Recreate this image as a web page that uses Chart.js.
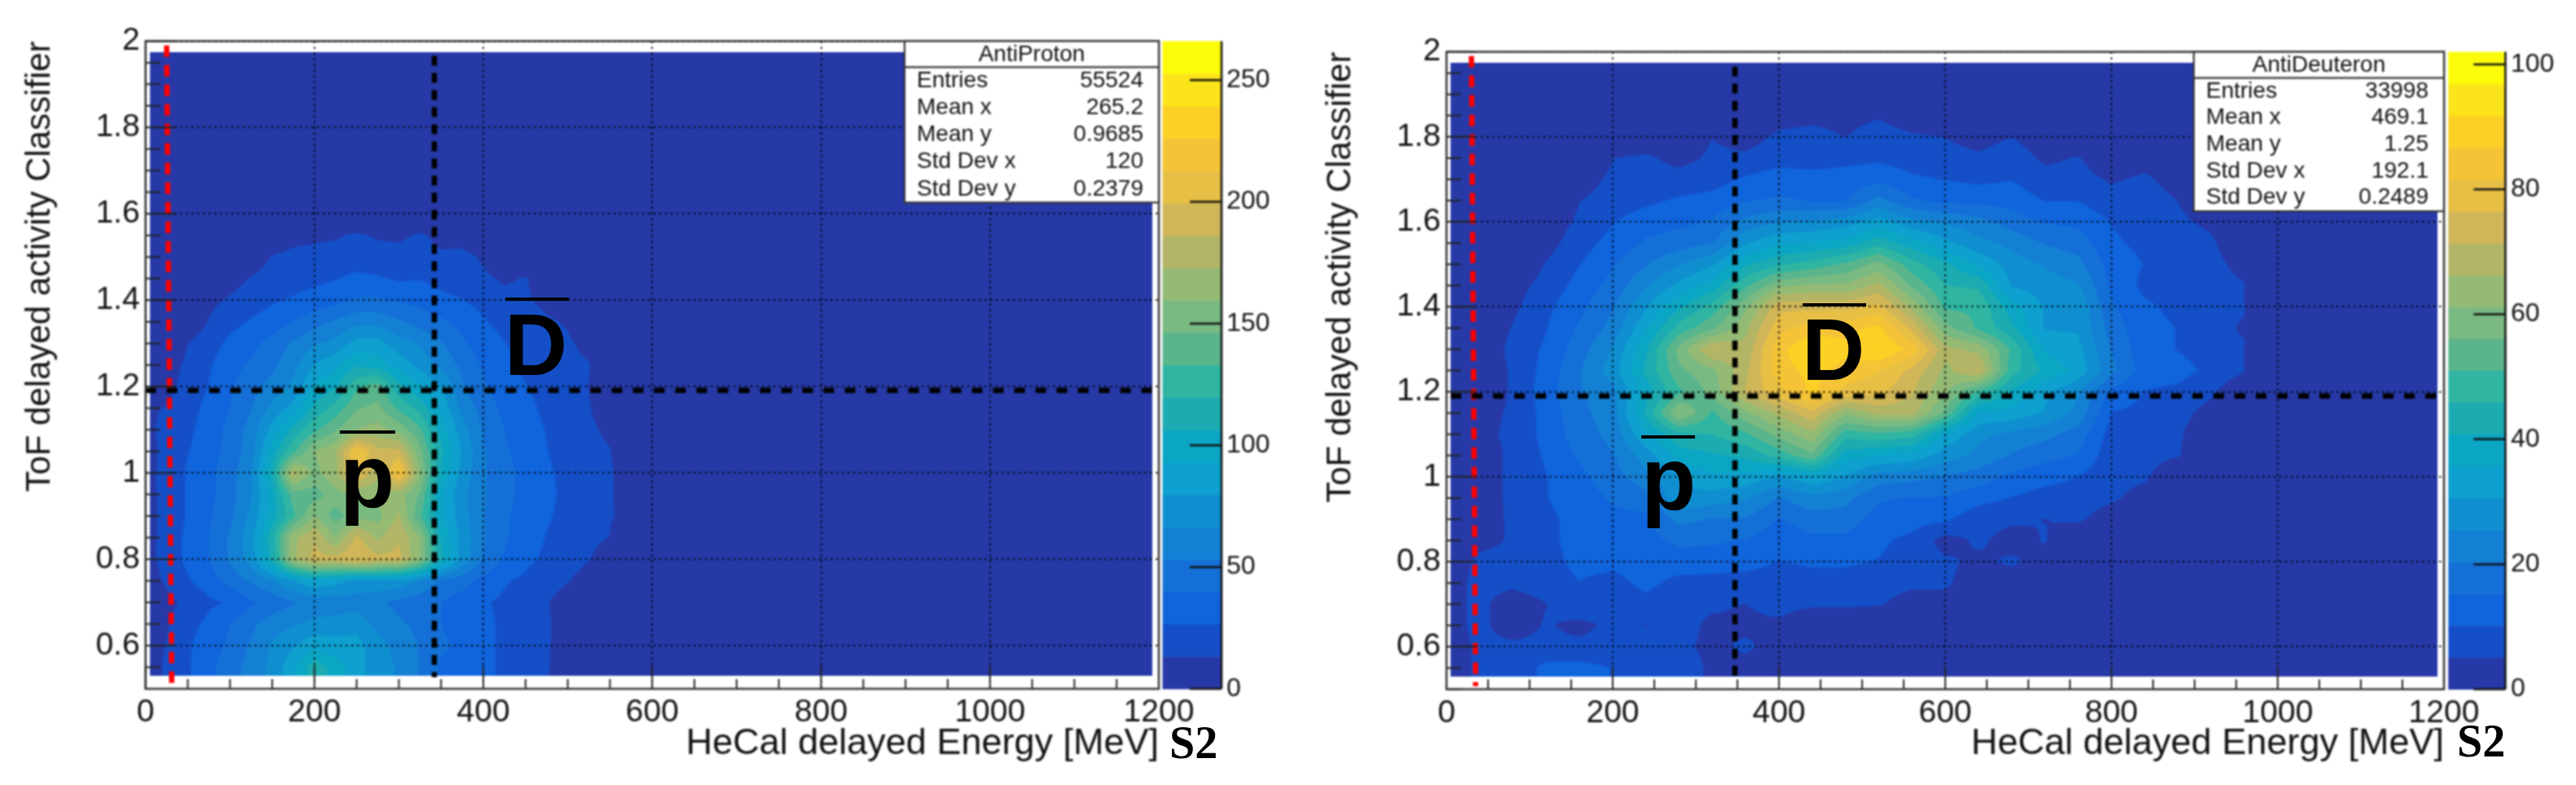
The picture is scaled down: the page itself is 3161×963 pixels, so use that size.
<!DOCTYPE html>
<html>
<head>
<meta charset="utf-8">
<title>AntiProton / AntiDeuteron</title>
<script src="https://cdn.jsdelivr.net/npm/chart.js@4"></script>
<style>
  html, body { margin: 0; background: #fff; }
  body { position: relative; width: 3161px; height: 963px; overflow: hidden; }
  canvas { position: absolute; top: 0; }
  #chartProton { left: 0; filter: blur(0.8px); }
  #chartDeuteron { left: 1581px; filter: blur(0.8px); }
  #labels { left: 0; }
</style>
</head>
<body>
<canvas id="chartProton" width="1580" height="963"></canvas>
<canvas id="chartDeuteron" width="1580" height="963"></canvas>
<canvas id="labels" width="3161" height="963"></canvas>
<script>
const statNames = ['Entries', 'Mean x', 'Mean y', 'Std Dev x', 'Std Dev y'];
const protonStats = ['55524', '265.2', '0.9685', '120', '0.2379'];
const deuteronStats = ['33998', '469.1', '1.25', '192.1', '0.2489'];

// bottom band to top band of the colour bar
const palette = ['#2639a6', '#144fc8', '#1064dc', '#1470d6', '#1480d4', '#0f8fd0', '#0ea0ce', '#0aa6c4', '#1cabb0', '#2fb5a2',
  '#5ab58c', '#79b982', '#95ba74', '#b3b566', '#d0b658', '#e8bf45', '#f4c436', '#fcd024', '#fbe41a', '#fbfb0a'];

const protonX = [5, 25, 50, 75, 100, 125, 150, 175, 200, 225, 250, 275, 300, 325, 350, 375, 400, 425, 450, 475, 500, 525, 550, 575];
const protonY = [1.6, 1.55, 1.5, 1.45, 1.4, 1.35, 1.3, 1.25, 1.2, 1.15, 1.1, 1.05, 1, 0.95, 0.9, 0.85, 0.8, 0.75, 0.7, 0.65, 0.6, 0.55];
const protonCounts = [
  [0,0,0,0,0,0,0,0,0,0,0,0,0,0,0,0,0,0,0,0,0,0,0,0],
  [0,0,0,0,0,0,6,10,11,12,15,12,11,15,10,9,6,2,0,0,0,0,0,0],
  [0,0,0,0,0,4,14,16,17,18,19,18,18,18,15,16,12,6,4,0,0,0,0,0],
  [0,0,0,0,8,14,20,21,23,26,30,28,25,26,22,20,15,12,14,6,0,0,0,0],
  [0,0,0,10,15,20,25,28,32,36,42,42,38,36,30,27,22,16,15,10,5,0,0,0],
  [0,0,4,14,22,28,33,40,48,55,62,62,55,48,42,36,28,22,18,15,12,3,0,0],
  [0,0,13,20,30,36,45,55,65,70,85,85,72,65,55,42,34,27,22,18,15,10,0,0],
  [0,5,17,25,35,42,50,62,80,90,105,100,88,75,62,50,38,30,24,20,16,14,2,0],
  [5,8,20,27,38,48,58,70,95,105,130,140,110,95,80,55,42,32,27,22,18,13,2,0],
  [12,14,22,30,40,52,70,85,110,125,145,150,130,115,90,62,48,36,30,24,20,14,6,0],
  [12,16,24,32,44,58,85,110,130,145,160,165,155,135,100,72,52,40,32,26,21,16,10,0],
  [10,17,26,34,45,60,100,130,160,170,215,190,190,150,110,78,55,42,34,27,22,18,14,2],
  [10,18,28,36,48,65,110,180,155,170,205,175,220,160,105,75,55,44,36,28,24,20,15,4],
  [10,18,28,36,48,65,100,140,140,155,160,165,165,145,95,70,55,44,36,29,24,20,15,5],
  [10,17,28,38,50,70,100,130,160,140,155,155,175,135,95,72,54,42,34,28,23,19,14,11],
  [10,18,30,40,55,75,115,170,185,160,190,170,185,160,105,75,55,42,33,26,21,17,13,2],
  [10,18,30,40,55,72,110,170,190,190,200,190,190,160,110,75,52,38,30,24,18,14,5,0],
  [9,15,25,34,45,55,65,80,90,85,75,78,75,65,50,45,36,28,24,18,14,8,0,0],
  [6,10,16,24,28,38,45,52,58,58,60,55,50,45,40,34,28,24,18,14,8,0,0,0],
  [6,12,22,30,40,50,60,65,70,72,75,62,55,50,40,34,30,24,18,15,7,0,0,0],
  [8,14,25,34,42,55,68,78,90,85,85,72,62,52,42,38,30,24,20,14,10,0,0,0],
  [9,15,25,36,48,58,70,90,115,100,85,72,65,52,38,36,30,24,18,14,9,0,0,0]
];

const deuteronX = [5, 40, 80, 120, 160, 200, 240, 280, 320, 360, 400, 440, 480, 520, 560, 600, 640, 680, 720, 760, 800, 840, 880, 920, 960];
const deuteronY = [1.85, 1.8, 1.75, 1.7, 1.65, 1.6, 1.55, 1.5, 1.45, 1.4, 1.35, 1.3, 1.25, 1.2, 1.15, 1.1, 1.05, 1, 0.95, 0.9, 0.85, 0.8, 0.75, 0.7, 0.65, 0.6, 0.55];
const deuteronCounts = [
  [0,0,0,0,0,0,0,0,0,0,3,3.5,3,4.5,1,0,0,0,0,0,0,0,0,0,0],
  [0,0,0,0,0,0,1,2,5,3,6,7,5,8,6,5,3,5,2,0,0,0,0,0,0],
  [0,0,0,0,0,5,6,3.5,6,6,8,8,9,9,8,7,6,8,4,5.5,1,3,0,0,0],
  [0,0,0,0,3,6,6.5,7,8,11,13,12,12,14,11,10,9,10,7,7,4.5,6,3,0,0],
  [0,0,0,0,5,7,9,11,12,15,16,15,15,22,16,14,14,13,10,10,7,7.5,5,2,0],
  [0,0,0,2,6,10,13,14,16,22,25,26,28,33,27,25,22,18,15,14,10,8,6,4,0],
  [0,0,0,3,8,12,16,18,20,30,35,36,38,44,38,32,27,24,20,18,11,9,8,6,0],
  [0,0,0,5.5,10,15,20,25,30,40,45,48,52,58,48,42,35,28,25,22,13,10,8,7,3],
  [0,0,3,7,12,17,25,32,38,50,60,62,62,68,55,46,45,30,28,26,14,9,8,7,5.5],
  [0,0,4,9,14,20,30,40,48,60,75,75,75,78,65,50,50,38,30,30,16,11,9,7,6],
  [0,0,5.5,10,16,22,35,48,55,65,80,84,85,88,75,58,50,42,30,30,18,12,10,8,4],
  [0,0,7,11,18,26,40,58,72,68,85,92,88,92,85,68,65,50,35,32,20,12,10,8,6],
  [0,0,6,12,20,28,42,55,60,70,85,88,85,82,75,65,72,48,40,34,22,13,12,9,5.5],
  [0,0,6,13,20,24,38,50,58,72,80,88,80,78,72,62,50,40,32,26,14,10,9,6,0],
  [0,3,6,12,19,23,42,62,50,60,68,75,62,68,68,55,35,34,30,24,10,9,7,3,0],
  [0,4,6,12,18,22,35,45,46,50,58,65,48,50,48,35,27,24,22,18,8,8,6,0,0],
  [0,3,6,11,16,20,28,38,40,42,48,55,38,36,34,28,24,20,17,15,7,7,5.5,0,0],
  [0,3,6,10,14,18,24,30,35,34,30,35,30,23,22,20,18,14,12,10,6.5,6,0,0,0],
  [0,3,6,10,13,16,18,30,28,26,20,24,22,16,15,15,12,10,8,8,6,3,0,0,0],
  [0,4,5.5,9,12,14,14,22,20,20,15,18,18,13,12,11,7,6,5,6,2,0,0,0,0],
  [0,4,5.5,9,12,13,14,16,16,15,12,14,14,11,9,3,6,3,5.5,0,0,0,0,0,0],
  [3,6,6,8,12,12,13,14,13,12,10,11,11,10,8,6,4,6,3,0,0,0,0,0,0],
  [4,6,6,7,10,8,12,8,8,8,8,8,8,7,6,6,2,2,0,0,0,0,0,0,0],
  [4,6,3,5,8,6,8,6,6,5,7,6,6,5.5,3,3,0,0,0,0,0,0,0,0,0],
  [4,6,3,5.5,4,6,5,7,4,4,4,0,0,0,0,0,0,0,0,0,0,0,0,0,0],
  [3,6,6,6,6,7,6,6,4,6,3,0,0,0,0,0,0,0,0,0,0,0,0,0,0],
  [3,6,5.5,12,12,10,7,8,4,3,3,0,0,0,0,0,0,0,0,0,0,0,0,0,0]
];

const histXRange = [5, 1192];
const histYRange = [0.53, 1.975];

const protonRedCut = [{x: 25, y: 1.99}, {x: 31, y: 0.507}];
const protonXCut = [{x: 342, y: 1.966}, {x: 342, y: 0.527}];
const protonYCut = [{x: 0, y: 1.191}, {x: 1193, y: 1.191}];
const deuteronRedCut = [{x: 30, y: 1.99}, {x: 35, y: 0.507}];
const deuteronXCut = [{x: 347, y: 1.965}, {x: 347, y: 0.527}];
const deuteronYCut = [{x: 5, y: 1.19}, {x: 1198, y: 1.19}];

function lookup(xs, ys, counts, x, y) {
  if (x < xs[0] || x > xs[xs.length - 1] || y > ys[0]) return 0;
  if (y < ys[ys.length - 1]) y = ys[ys.length - 1];
  let i = 0, j = 0;
  while (i < xs.length - 2 && x > xs[i + 1]) i++;
  while (j < ys.length - 2 && y < ys[j + 1]) j++;
  const tx = (x - xs[i]) / (xs[i + 1] - xs[i]);
  const ty = (ys[j] - y) / (ys[j] - ys[j + 1]);
  const top = counts[j][i] * (1 - tx) + counts[j][i + 1] * tx;
  const bottom = counts[j + 1][i] * (1 - tx) + counts[j + 1][i + 1] * tx;
  return top * (1 - ty) + bottom * ty;
}

const rootPanel = {
  id: 'rootPanel',
  // filled contour bands, read back through the scales
  beforeDatasetsDraw(chart, args, o) {
    const {ctx, scales: {x, y}} = chart;
    const x0 = Math.round(x.getPixelForValue(histXRange[0])), x1 = Math.round(x.getPixelForValue(histXRange[1]));
    const y0 = Math.round(y.getPixelForValue(histYRange[1])), y1 = Math.round(y.getPixelForValue(histYRange[0]));
    const xVals = [];
    for (let px = x0; px < x1; px++) xVals.push(x.getValueForPixel(px + 0.5));
    const bandOf = v => Math.min(19, Math.floor(v / o.zMax * 20));
    for (let py = y0; py < y1; py++) {
      const yVal = y.getValueForPixel(py + 0.5);
      let start = 0, band = bandOf(lookup(o.xs, o.ys, o.counts, xVals[0], yVal));
      for (let k = 1; k <= xVals.length; k++) {
        const b = k < xVals.length ? bandOf(lookup(o.xs, o.ys, o.counts, xVals[k], yVal)) : -1;
        if (b !== band) {
          ctx.fillStyle = palette[band];
          ctx.fillRect(x0 + start, py, k - start, 1);
          start = k;
          band = b;
        }
      }
    }
  },
  afterDraw(chart, args, o) {
    const {ctx, chartArea: a, scales: {x, y, z}} = chart;
    ctx.save();
    ctx.strokeStyle = '#222';
    // inside ticks
    ctx.lineWidth = 2;
    ctx.beginPath();
    for (let v = 0; v <= 1200; v += 50) {
      const px = x.getPixelForValue(v);
      ctx.moveTo(px, a.bottom);
      ctx.lineTo(px, a.bottom - (v % 200 === 0 ? 28 : 12));
    }
    for (let n = 0; n <= 30; n++) {
      const py = y.getPixelForValue(0.5 + n * 0.05);
      ctx.moveTo(a.left, py);
      ctx.lineTo(a.left + ((n + 2) % 4 === 0 ? 36 : 18), py);
    }
    ctx.stroke();
    ctx.lineWidth = 2.5;
    ctx.strokeStyle = '#333';
    ctx.strokeRect(a.left, a.top, a.right - a.left, a.bottom - a.top);

    // colour bar
    const barL = a.right + o.barGap, barR = a.right + o.barEnd;
    palette.forEach((c, i) => {
      const top = z.getPixelForValue((i + 1) * o.zMax / 20), bot = z.getPixelForValue(i * o.zMax / 20);
      ctx.fillStyle = c;
      ctx.fillRect(barL, top, barR - barL, bot - top + 0.5);
    });
    ctx.strokeStyle = '#111';
    ctx.lineWidth = 2.5;
    ctx.beginPath();
    ctx.moveTo(barR, a.top);
    ctx.lineTo(barR, a.bottom);
    z.ticks.forEach(t => {
      const py = z.getPixelForValue(t.value);
      ctx.moveTo(barR, py);
      ctx.lineTo(barR - 39, py);
    });
    ctx.stroke();

    // stats box
    const bx = o.boxLeft, bw = a.right - bx, by = a.top, bh = o.boxHeight;
    ctx.fillStyle = '#fff';
    ctx.fillRect(bx, by, bw, bh);
    ctx.strokeStyle = '#333';
    ctx.lineWidth = 2.2;
    ctx.strokeRect(bx, by, bw, bh);
    ctx.beginPath();
    ctx.moveTo(bx, by + o.boxHead);
    ctx.lineTo(a.right, by + o.boxHead);
    ctx.stroke();
    ctx.fillStyle = '#111';
    ctx.font = '28px "Liberation Sans"';
    ctx.textBaseline = 'middle';
    ctx.textAlign = 'center';
    ctx.fillText(o.title, bx + bw / 2, by + o.boxHead / 2 + 1);
    o.stats.forEach((s, i) => {
      const ry = by + o.boxHead + (i + 0.5) * (bh - o.boxHead) / 5;
      ctx.textAlign = 'left';
      ctx.fillText(statNames[i], bx + 15, ry);
      ctx.textAlign = 'right';
      ctx.fillText(s, a.right - 19, ry);
    });
    ctx.restore();
  }
};

function makeChart(id, p) {
  const tickFont = {family: '"Liberation Sans"', size: 39};
  const titleFont = {family: '"Liberation Sans"'};
  const dots = {display: false, dash: [2.5, 4.5]};
  const cut = (data, color, width, dash) => ({
    data, showLine: true, pointRadius: 0, borderColor: color, borderWidth: width, borderDash: dash, fill: false
  });
  return new Chart(document.getElementById(id), {
    type: 'scatter',
    data: {
      datasets: [
        cut(p.xCut, '#000', 6.5, [12, 9]),
        cut(p.yCut, '#000', 6.5, [13, 13]),
        cut(p.redCut, '#f00', 6.5, [14, 10])
      ]
    },
    plugins: [rootPanel],
    options: {
      responsive: false,
      animation: false,
      events: [],
      layout: {padding: {top: p.top}},
      plugins: {
        legend: {display: false},
        tooltip: {enabled: false},
        rootPanel: {
          xs: p.xs, ys: p.ys, counts: p.counts, zMax: p.zMax, barGap: p.barGap, barEnd: p.barEnd,
          title: p.title, stats: p.stats, boxLeft: p.boxLeft, boxHeight: p.boxHeight, boxHead: p.boxHead
        }
      },
      scales: {
        x: {
          type: 'linear', min: 0, max: 1200,
          afterFit: s => { s.height = 963 - p.bottom; },
          ticks: {stepSize: 200, padding: 6, color: '#111', font: tickFont, maxRotation: 0, autoSkip: false, callback: v => String(v)},
          grid: {color: '#000', lineWidth: 1.8, drawTicks: false, z: 1},
          border: dots,
          title: {display: true, text: 'HeCal delayed Energy [MeV]', align: 'end', color: '#111', font: {...titleFont, size: 45}, padding: {top: 0, bottom: 23}}
        },
        y: {
          type: 'linear', min: 0.5, max: 2,
          afterFit: s => { s.width = p.left; },
          ticks: {stepSize: 0.2, includeBounds: false, padding: 7, color: '#111', font: tickFont, autoSkip: false, callback: v => String(+v.toFixed(1))},
          grid: {color: '#000', lineWidth: 1.8, drawTicks: false, z: 1},
          border: dots,
          title: {display: true, text: 'ToF delayed activity Classifier', align: 'end', color: '#111', font: {...titleFont, size: 42}, padding: {top: p.yTitlePad, bottom: 0}}
        },
        z: {
          type: 'linear', position: 'right', min: 0, max: p.zMax,
          // the big tick padding would otherwise push the plot area down
          afterFit: s => { s.width = 1580 - p.right; s.paddingTop = 0; s.paddingBottom = 0; },
          ticks: {stepSize: p.zStep, includeBounds: false, padding: p.zPad, color: '#111', font: {family: '"Liberation Sans"', size: 32}, autoSkip: false},
          grid: {display: false, drawTicks: false},
          border: {display: false}
        }
      }
    }
  });
}

makeChart('chartProton', {
  xs: protonX, ys: protonY, counts: protonCounts, zMax: 266, zStep: 50, zPad: 83,
  redCut: protonRedCut, xCut: protonXCut, yCut: protonYCut,
  title: 'AntiProton', stats: protonStats,
  left: 178.6, right: 1422, top: 50.4, bottom: 845,
  barGap: 4.5, barEnd: 77, boxLeft: 1110, boxHeight: 198, boxHead: 32, yTitlePad: 24
});

makeChart('chartDeuteron', {
  xs: deuteronX, ys: deuteronY, counts: deuteronCounts, zMax: 102, zStep: 20, zPad: 82,
  redCut: deuteronRedCut, xCut: deuteronXCut, yCut: deuteronYCut,
  title: 'AntiDeuteron', stats: deuteronStats,
  left: 194, right: 1418, top: 63.6, bottom: 845.5,
  barGap: 5.3, barEnd: 75.4, boxLeft: 1111, boxHeight: 195.5, boxHead: 32, yTitlePad: 39
});

// hand-added overlays on the original figure
const over = document.getElementById('labels').getContext('2d');
function particle(letter, size, x, baseline, barX0, barX1, barY) {
  over.fillStyle = '#000';
  over.font = `bold ${size}px "Liberation Sans"`;
  over.fillText(letter, x, baseline);
  over.fillRect(barX0, barY - 2, barX1 - barX0, 4);
}
particle('D', 107, 619, 460, 620, 698, 367);
particle('p', 110, 417, 622, 417, 485, 530);
particle('D', 107, 2211, 466, 2212, 2290, 374);
particle('p', 110, 2014, 625, 2014, 2080, 536);
over.font = 'bold 56px "Liberation Serif"';
over.fillText('S2', 1435, 930);
over.fillText('S2', 3015, 928);
</script>
</body>
</html>
